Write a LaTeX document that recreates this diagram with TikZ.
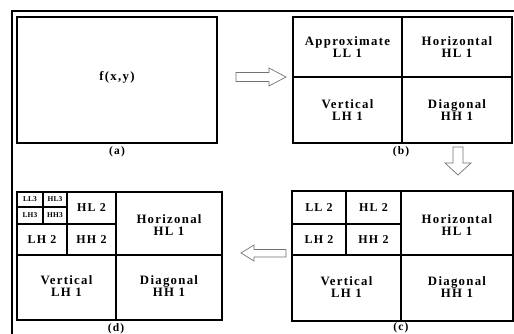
\documentclass[tikz,border=0pt]{standalone}
\usepackage{fontspec}
\setmainfont{Liberation Serif}
\newfontfamily\widefont[LetterSpace=10]{Liberation Serif}
\newfontfamily\tinyfont[LetterSpace=2]{Liberation Serif}
\begin{document}
\begin{tikzpicture}[x=1pt,y=-1pt,
  box/.style={draw=black,line width=1.4pt},
  lbl/.style={font=\widefont\bfseries\fontsize{12.8}{11.5}\selectfont,align=center,inner sep=0pt},
  sml/.style={font=\widefont\bfseries\fontsize{12}{11}\selectfont,inner sep=0pt},
  tiny/.style={font=\tinyfont\bfseries\fontsize{7.4}{7}\selectfont,inner sep=0pt},
  capt/.style={font=\widefont\bfseries\fontsize{11.5}{11}\selectfont,inner sep=0pt},
  blk/.style={draw=black!55,line width=0.7pt,fill=white}]
\useasboundingbox (0,0) rectangle (514,333);
% outer frame
\draw[line width=2.4pt] (12,340) -- (12,11) -- (520,11);
% (a)
\draw[box] (17,17) rectangle (217,143);
\node[lbl] (fxy) at (117,77) {f(x,y)};
\node[capt] (capa) at (117,152) {(a)};
% (b)
\draw[box] (293,17) rectangle (512,143);
\draw[box] (402,17) -- (402,143) (293,77) -- (512,77);
\node[lbl] (bll) at (347.5,47) {Approximate\\LL 1};
\node[lbl] (bhl) at (457,47) {Horizontal\\HL 1};
\node[lbl] (blh) at (347.5,110) {Vertical\\LH 1};
\node[lbl] (bhh) at (457,110) {Diagonal\\HH 1};
\node[capt] (capb) at (401,152) {(b)};
% (c)
\draw[box] (292,191) rectangle (513,321);
\draw[box] (401,191) -- (401,321) (292,255) -- (513,255)
  (346,191) -- (346,255) (292,224) -- (401,224);
\node[sml] (cll2) at (319,207.5) {LL 2};
\node[sml] (chl2) at (373.5,207.5) {HL 2};
\node[sml] (clh2) at (319,239.5) {LH 2};
\node[sml] (chh2) at (373.5,239.5) {HH 2};
\node[lbl] (chl) at (457,225) {Horizontal\\HL 1};
\node[lbl] (clh) at (346.5,287) {Vertical\\LH 1};
\node[lbl] (chh) at (457,287) {Diagonal\\HH 1};
\node[capt] (capc) at (401,328) {(c)};
% (d)
\draw[box] (17,192) rectangle (222,320);
\draw[box] (116,192) -- (116,320) (17,255) -- (222,255)
  (67,192) -- (67,255) (17,224) -- (116,224)
  (43,192) -- (43,224) (17,207) -- (67,207);
\node[tiny] (dll3) at (30,199.5) {LL3};
\node[tiny] (dhl3) at (55,199.5) {HL3};
\node[tiny] (dlh3) at (30,215.5) {LH3};
\node[tiny] (dhh3) at (55,215.5) {HH3};
\node[sml] (dhl2) at (91.5,208) {HL 2};
\node[sml] (dlh2) at (42,240) {LH 2};
\node[sml] (dhh2) at (91.5,240) {HH 2};
\node[lbl] (dhl) at (169,225) {Horizonal\\HL 1};
\node[lbl] (dlh) at (66.5,286) {Vertical\\LH 1};
\node[lbl] (dhh) at (169,286) {Diagonal\\HH 1};
\node[capt] (capd) at (116,329) {(d)};
% block arrows
\draw[blk] (236,72.5) -- (269,72.5) -- (269,68) -- (286,77) -- (269,86) -- (269,81.5) -- (236,81.5) -- cycle;
\draw[blk] (453,147) -- (463,147) -- (463,163) -- (471,163) -- (458,175) -- (445,163) -- (453,163) -- cycle;
\draw[blk] (286,249.5) -- (254,249.5) -- (254,245) -- (241,253) -- (254,261) -- (254,257) -- (286,257) -- cycle;
\end{tikzpicture}
\end{document}
